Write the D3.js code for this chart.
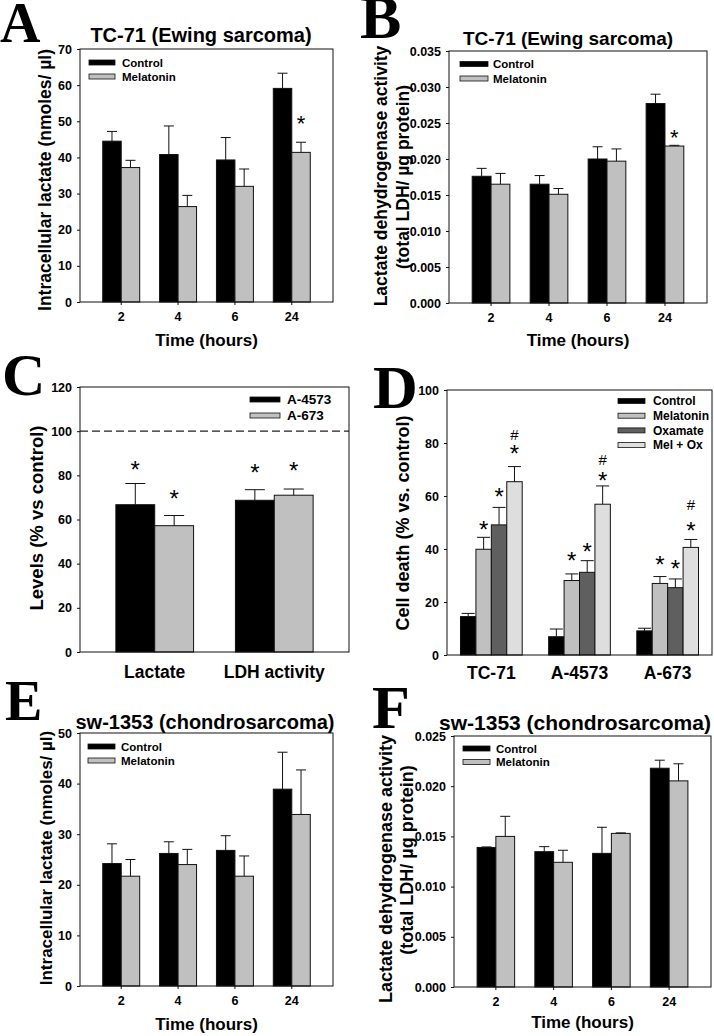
<!DOCTYPE html>
<html><head><meta charset="utf-8">
<script src="https://cdn.jsdelivr.net/npm/d3@7"></script>
<style>
body{margin:0;background:#fff}
svg text{font-family:"Liberation Sans",Arial,sans-serif;font-weight:bold;fill:#000}
</style>
</head><body>
<svg id="chart" width="714" height="1036"></svg>
<script>
// ---------------- DATA ----------------
const timeCategories = ["2", "4", "6", "24"];
const treatSeries = ["Control", "Melatonin"];

// Panel A: TC-71 intracellular lactate
const aControl = [44.5, 40.8, 39.3, 59.1];
const aControlErr = [2.7, 7.9, 6.2, 4.2];
const aMelatonin = [37.2, 26.4, 32.0, 41.4];
const aMelatoninErr = [2.0, 3.1, 4.8, 2.8];
const aTicks = [0, 10, 20, 30, 40, 50, 60, 70];
const aMarks = [{cat: "24", series: "Melatonin", text: "*", value: 50.6}];

// Panel B: TC-71 LDH activity
const bControl = [0.0176, 0.0165, 0.0200, 0.0277];
const bControlErr = [0.0011, 0.0012, 0.0017, 0.0013];
const bMelatonin = [0.0165, 0.0151, 0.0197, 0.0218];
const bMelatoninErr = [0.0015, 0.0008, 0.0017, 0.0001];
const bTicks = [0, 0.005, 0.010, 0.015, 0.020, 0.025, 0.030, 0.035];
const bMarks = [{cat: "24", series: "Melatonin", text: "*", value: 0.0237}];

// Panel C: levels % vs control
const cCategories = ["Lactate", "LDH activity"];
const cSeries = ["A-4573", "A-673"];
const cA4573 = [66.7, 68.7];
const cA4573Err = [9.6, 4.8];
const cA673 = [57.2, 71.0];
const cA673Err = [4.6, 2.8];
const cTicks = [0, 20, 40, 60, 80, 100, 120];
const cReference = 100;
const cMarks = [
  {cat: "Lactate", series: "A-4573", text: "*", value: 85.1},
  {cat: "Lactate", series: "A-673", text: "*", value: 71.6},
  {cat: "LDH activity", series: "A-4573", text: "*", value: 83.3},
  {cat: "LDH activity", series: "A-673", text: "*", value: 84.2}
];

// Panel D: cell death
const dCategories = ["TC-71", "A-4573", "A-673"];
const dSeries = ["Control", "Melatonin", "Oxamate", "Mel + Ox"];
const dControl = [14.5, 6.9, 9.1];
const dControlErr = [1.2, 2.9, 1.0];
const dMelatonin = [39.9, 28.1, 27.0];
const dMelatoninErr = [4.5, 2.5, 2.6];
const dOxamate = [49.1, 31.2, 25.4];
const dOxamateErr = [6.6, 4.4, 3.3];
const dMelOx = [65.4, 56.9, 40.6];
const dMelOxErr = [5.7, 6.9, 3.0];
const dTicks = [0, 20, 40, 60, 80, 100];
const dMarks = [
  {cat: "TC-71", series: "Melatonin", text: "*", value: 49.1},
  {cat: "TC-71", series: "Oxamate", text: "*", value: 61.6},
  {cat: "TC-71", series: "Mel + Ox", text: "*", value: 78.0},
  {cat: "TC-71", series: "Mel + Ox", text: "#", value: 83.2},
  {cat: "A-4573", series: "Melatonin", text: "*", value: 37.7},
  {cat: "A-4573", series: "Oxamate", text: "*", value: 41.1},
  {cat: "A-4573", series: "Mel + Ox", text: "*", value: 67.9},
  {cat: "A-4573", series: "Mel + Ox", text: "#", value: 73.9},
  {cat: "A-673", series: "Melatonin", text: "*", value: 36.1},
  {cat: "A-673", series: "Oxamate", text: "*", value: 34.6},
  {cat: "A-673", series: "Mel + Ox", text: "*", value: 48.7},
  {cat: "A-673", series: "Mel + Ox", text: "#", value: 56.6}
];

// Panel E: sw-1353 intracellular lactate
const eControl = [24.2, 26.2, 26.8, 38.9];
const eControlErr = [3.9, 2.3, 2.9, 7.3];
const eMelatonin = [21.7, 24.0, 21.7, 33.9];
const eMelatoninErr = [3.3, 3.0, 4.0, 8.8];
const eTicks = [0, 10, 20, 30, 40, 50];

// Panel F: sw-1353 LDH activity
const fControl = [0.0139, 0.01348, 0.01331, 0.02179];
const fControlErr = [0.00005, 0.0005, 0.0026, 0.0008];
const fMelatonin = [0.0150, 0.01242, 0.0153, 0.02053];
const fMelatoninErr = [0.0020, 0.0012, 0.00005, 0.0017];
const fTicks = [0, 0.005, 0.010, 0.015, 0.020, 0.025];

// ---------------- DRAWING ----------------
const svg = d3.select("#chart");
svg.append("rect").attr("width", 714).attr("height", 1036).attr("fill", "#fff");

const COL = {"Control": "#000000", "Melatonin": "#c0c0c0", "A-4573": "#000000", "A-673": "#c0c0c0",
             "Oxamate": "#5f5f5f", "Mel + Ox": "#dedede"};

function drawPanel(cfg) {
  const g = svg.append("g");
  const x = d3.scaleBand().domain(cfg.categories).range([cfg.left, cfg.right])
    .paddingInner(cfg.pi).paddingOuter(cfg.po);
  const xs = d3.scaleBand().domain(cfg.series.map(s => s.name)).range([0, x.bandwidth()]);
  const y = d3.scaleLinear().domain([0, cfg.max]).range([cfg.bottom, cfg.top]);

  if (cfg.reference !== undefined) {
    g.append("line").attr("x1", cfg.left).attr("x2", cfg.right)
      .attr("y1", y(cfg.reference)).attr("y2", y(cfg.reference))
      .attr("stroke", "#222").attr("stroke-width", 1.3).attr("stroke-dasharray", "8,4");
  }

  cfg.series.forEach(s => {
    const rows = cfg.categories.map((c, i) => ({c, v: s.values[i], e: s.errs[i]}));
    const bw = xs.bandwidth();
    g.selectAll(null).data(rows).enter().append("rect")
      .attr("x", d => x(d.c) + xs(s.name))
      .attr("y", d => y(d.v))
      .attr("width", bw)
      .attr("height", d => y(0) - y(d.v))
      .attr("fill", COL[s.name]).attr("stroke", "#111").attr("stroke-width", 1);
    const cx = d => x(d.c) + xs(s.name) + bw / 2;
    g.selectAll(null).data(rows).enter().append("line")
      .attr("x1", cx).attr("x2", cx)
      .attr("y1", d => y(d.v)).attr("y2", d => y(d.v + d.e))
      .attr("stroke", "#111").attr("stroke-width", 1);
    g.selectAll(null).data(rows).enter().append("line")
      .attr("x1", d => cx(d) - cfg.cap / 2).attr("x2", d => cx(d) + cfg.cap / 2)
      .attr("y1", d => y(d.v + d.e)).attr("y2", d => y(d.v + d.e))
      .attr("stroke", "#111").attr("stroke-width", 1);
  });

  (cfg.marks || []).forEach(m => {
    const fs = m.text === "*" ? cfg.starSize : cfg.hashSize;
    const cy = y(m.value);
    g.append("text").attr("x", x(m.cat) + xs(m.series) + xs.bandwidth() / 2)
      .attr("y", m.text === "*" ? cy + 0.56 * fs : cy + 0.36 * fs)
      .attr("text-anchor", "middle").style("font-size", fs + "px").style("font-weight", "normal")
      .text(m.text);
  });

  g.append("rect").attr("x", cfg.left).attr("y", cfg.top)
    .attr("width", cfg.right - cfg.left).attr("height", cfg.bottom - cfg.top)
    .attr("fill", "none").attr("stroke", "#111").attr("stroke-width", 1);

  const ya = g.append("g").attr("transform", `translate(${cfg.left},0)`)
    .call(d3.axisLeft(y).tickValues(cfg.ticks).tickSize(3).tickPadding(5).tickFormat(cfg.fmt));
  ya.select(".domain").remove();
  ya.attr("font-family", null).attr("font-size", null);
  ya.selectAll("text").style("font-size", cfg.tickFont + "px");
  ya.selectAll("line").attr("stroke", "#111");
  const xa = g.append("g").attr("transform", `translate(0,${cfg.bottom})`)
    .call(d3.axisBottom(x).tickSize(cfg.xTickSize).tickPadding(cfg.xTickPad));
  xa.select(".domain").remove();
  xa.attr("font-family", null).attr("font-size", null);
  xa.selectAll("text").style("font-size", cfg.xTickFont + "px");
  xa.selectAll("line").attr("stroke", "#111");

  if (cfg.title) {
    g.append("text").attr("x", cfg.title.x).attr("y", cfg.title.y).attr("text-anchor", "middle")
      .style("font-size", cfg.title.size + "px").text(cfg.title.text);
  }
  if (cfg.xTitle) {
    g.append("text").attr("x", (cfg.left + cfg.right) / 2).attr("y", cfg.xTitle.y).attr("text-anchor", "middle")
      .style("font-size", cfg.xTitle.size + "px").text(cfg.xTitle.text);
  }
  cfg.yTitle.forEach(t => {
    g.append("text").attr("transform", `translate(${t.x},${t.y}) rotate(-90)`)
      .attr("text-anchor", "middle").attr("dy", "0.35em")
      .style("font-size", t.size + "px").text(t.text);
  });
  g.append("text").attr("x", cfg.letter.x).attr("y", cfg.letter.y)
    .style("font-family", '"Liberation Serif","Times New Roman",serif')
    .style("font-size", cfg.letter.size + "px").text(cfg.letter.text);

  const L = cfg.legend;
  cfg.series.forEach((s, i) => {
    const cy = L.y + i * L.dy;
    g.append("rect").attr("x", L.x).attr("y", cy - L.rh / 2).attr("width", L.rw).attr("height", L.rh)
      .attr("fill", COL[s.name]).attr("stroke", "#111").attr("stroke-width", 0.8);
    g.append("text").attr("x", L.x + L.rw + L.gap).attr("y", cy).attr("dy", "0.36em")
      .style("font-size", L.size + "px").text(s.name);
  });
}

const fmt3 = d3.format(".3f");
const fmt0 = d3.format("d");

drawPanel({
  categories: timeCategories,
  series: [{name: treatSeries[0], values: aControl, errs: aControlErr},
           {name: treatSeries[1], values: aMelatonin, errs: aMelatoninErr}],
  left: 80, right: 333, top: 49, bottom: 302, pi: 0.35, po: 0.40, max: 70,
  ticks: aTicks, fmt: fmt0, tickFont: 12.5, xTickFont: 12.5, xTickSize: 3, xTickPad: 7, cap: 10,
  marks: aMarks, starSize: 22, hashSize: 15,
  title: {text: "TC-71 (Ewing sarcoma)", x: 201, y: 42, size: 20},
  xTitle: {text: "Time (hours)", y: 346, size: 17},
  yTitle: [{text: "Intracellular lactate (nmoles/ \u00b5l)", x: 45, y: 180, size: 17.5}],
  letter: {text: "A", x: 0, y: 42, size: 56},
  legend: {x: 89, y: 62.5, dy: 14, rw: 26, rh: 5, gap: 7, size: 11.5}
});

drawPanel({
  categories: timeCategories,
  series: [{name: treatSeries[0], values: bControl, errs: bControlErr},
           {name: treatSeries[1], values: bMelatonin, errs: bMelatoninErr}],
  left: 449, right: 707, top: 51, bottom: 303, pi: 0.35, po: 0.40, max: 0.035,
  ticks: bTicks, fmt: fmt3, tickFont: 12.5, xTickFont: 12.5, xTickSize: 3, xTickPad: 7, cap: 10,
  marks: bMarks, starSize: 22, hashSize: 15,
  title: {text: "TC-71 (Ewing sarcoma)", x: 568, y: 45, size: 19},
  xTitle: {text: "Time (hours)", y: 346, size: 17},
  yTitle: [{text: "Lactate dehydrogenase activity", x: 381, y: 176, size: 17.5},
           {text: "(total LDH/ \u00b5g protein)", x: 403, y: 177, size: 17.5}],
  letter: {text: "B", x: 360, y: 38, size: 62},
  legend: {x: 460, y: 64, dy: 14.5, rw: 28, rh: 5, gap: 5, size: 11.5}
});

drawPanel({
  categories: cCategories,
  series: [{name: cSeries[0], values: cA4573, errs: cA4573Err},
           {name: cSeries[1], values: cA673, errs: cA673Err}],
  left: 80, right: 349, top: 387, bottom: 652, pi: 0.35, po: 0.30, max: 120,
  reference: cReference,
  ticks: cTicks, fmt: fmt0, tickFont: 12.5, xTickFont: 17.5, xTickSize: 0, xTickPad: 14, cap: 20,
  marks: cMarks, starSize: 24, hashSize: 15,
  yTitle: [{text: "Levels (% vs control)", x: 37, y: 518, size: 18.5}],
  letter: {text: "C", x: 2, y: 395, size: 60},
  legend: {x: 250, y: 399.5, dy: 16, rw: 30, rh: 5, gap: 7, size: 13.5}
});

drawPanel({
  categories: dCategories,
  series: [{name: dSeries[0], values: dControl, errs: dControlErr},
           {name: dSeries[1], values: dMelatonin, errs: dMelatoninErr},
           {name: dSeries[2], values: dOxamate, errs: dOxamateErr},
           {name: dSeries[3], values: dMelOx, errs: dMelOxErr}],
  left: 447, right: 712, top: 390, bottom: 655, pi: 0.30, po: 0.153, max: 100,
  ticks: dTicks, fmt: fmt0, tickFont: 12.5, xTickFont: 17.5, xTickSize: 0, xTickPad: 12, cap: 13,
  marks: dMarks, starSize: 24, hashSize: 15,
  yTitle: [{text: "Cell death (% vs. control)", x: 403, y: 523, size: 18}],
  letter: {text: "D", x: 373, y: 408, size: 62},
  legend: {x: 618, y: 401, dy: 14.7, rw: 27, rh: 5, gap: 8, size: 12}
});

drawPanel({
  categories: timeCategories,
  series: [{name: treatSeries[0], values: eControl, errs: eControlErr},
           {name: treatSeries[1], values: eMelatonin, errs: eMelatoninErr}],
  left: 80, right: 333, top: 733, bottom: 986, pi: 0.35, po: 0.40, max: 50,
  ticks: eTicks, fmt: fmt0, tickFont: 12.5, xTickFont: 12.5, xTickSize: 3, xTickPad: 7, cap: 10,
  marks: [], starSize: 22, hashSize: 15,
  title: {text: "sw-1353 (chondrosarcoma)", x: 205, y: 729, size: 20},
  xTitle: {text: "Time (hours)", y: 1030, size: 17},
  yTitle: [{text: "Intracellular lactate (nmoles/ \u00b5l)", x: 46, y: 858, size: 17}],
  letter: {text: "E", x: 5, y: 720, size: 56},
  legend: {x: 88, y: 746.5, dy: 14, rw: 27, rh: 5, gap: 6, size: 11.5}
});

drawPanel({
  categories: timeCategories,
  series: [{name: treatSeries[0], values: fControl, errs: fControlErr},
           {name: treatSeries[1], values: fMelatonin, errs: fMelatoninErr}],
  left: 454, right: 711, top: 736, bottom: 987, pi: 0.35, po: 0.40, max: 0.025,
  ticks: fTicks, fmt: fmt3, tickFont: 12.5, xTickFont: 12.5, xTickSize: 3, xTickPad: 7, cap: 10,
  marks: [], starSize: 22, hashSize: 15,
  title: {text: "sw-1353 (chondrosarcoma)", x: 575, y: 730, size: 21},
  xTitle: {text: "Time (hours)", y: 1028, size: 17},
  yTitle: [{text: "Lactate dehydrogenase activity", x: 386, y: 869, size: 18},
           {text: "(total LDH/ \u00b5g protein)", x: 407, y: 860, size: 18}],
  letter: {text: "F", x: 372, y: 728, size: 62},
  legend: {x: 463, y: 748.5, dy: 13.5, rw: 27, rh: 5, gap: 6, size: 11.5}
});
</script>
</body></html>
